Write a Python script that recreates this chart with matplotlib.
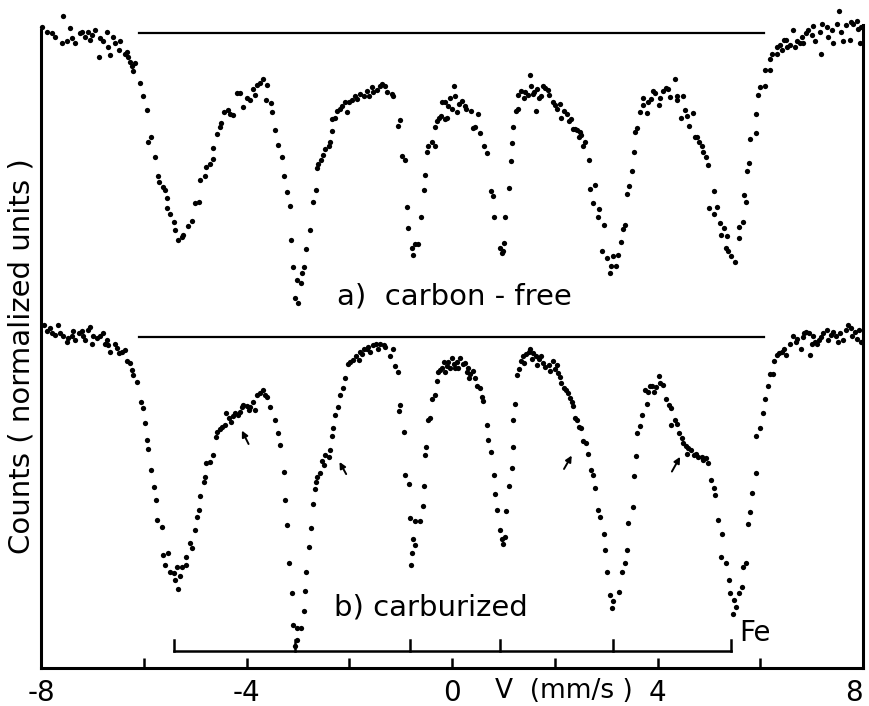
import matplotlib
matplotlib.use('Agg')
import matplotlib.pyplot as plt

plt.rcParams['font.family'] = 'DejaVu Sans'
plt.rcParams['axes.unicode_minus'] = False

# Mossbauer spectra: velocity (mm/s), counts (normalized units, spectra offset)
spec_a = [
    (-7.99, 100.2), (-7.89, 99.4), (-7.79, 99.2), (-7.73, 98.6), (-7.60, 97.6), (-7.565, 101.8),
    (-7.50, 97.9), (-7.44, 100.0), (-7.40, 98.4), (-7.34, 97.6), (-7.24, 99.2), (-7.21, 99.4),
    (-7.14, 98.6), (-7.08, 99.4), (-7.05, 98.1), (-7.01, 98.9), (-6.95, 99.7), (-6.88, 95.5),
    (-6.86, 98.4), (-6.79, 97.9), (-6.72, 99.4), (-6.69, 97.1), (-6.66, 95.8), (-6.59, 98.6),
    (-6.56, 97.6), (-6.49, 96.6), (-6.46, 97.9), (-6.37, 96.0), (-6.33, 96.3), (-6.30, 95.5),
    (-6.27, 94.7), (-6.23, 94.0), (-6.17, 94.5), (-6.20, 93.3), (-6.07, 91.4), (-6.01, 89.3),
    (-5.94, 87.2), (-5.91, 82.2), (-5.85, 83.0), (-5.78, 79.9), (-5.72, 76.8),
    (-5.70, 76.0), (-5.62, 75.2), (-5.59, 74.7), (-5.55, 73.4), (-5.55, 71.8), (-5.49, 71.0),
    (-5.42, 69.7), (-5.39, 68.4), (-5.33, 66.9), (-5.26, 67.4), (-5.23, 67.7), (-5.13, 69.0),
    (-5.07, 69.9), (-5.00, 72.6), (-4.92, 72.8), (-4.90, 76.3), (-4.81, 76.8), (-4.78, 78.3),
    (-4.71, 78.8), (-4.65, 79.6), (-4.65, 81.2), (-4.58, 83.5), (-4.52, 84.6), (-4.50, 85.2),
    (-4.44, 86.9), (-4.37, 87.2), (-4.32, 86.6), (-4.26, 86.4), (-4.18, 89.8), (-4.13, 89.9),
    (-4.07, 87.6), (-4.00, 89.0), (-3.93, 88.8), (-3.88, 90.4), (-3.83, 89.5), (-3.80, 91.1),
    (-3.74, 91.4), (-3.67, 92.1), (-3.63, 88.8), (-3.61, 91.1), (-3.53, 88.3), (-3.51, 86.9),
    (-3.45, 84.1), (-3.38, 81.7), (-3.31, 79.9), (-3.27, 76.8), (-3.22, 74.4), (-3.15, 72.2),
    (-3.14, 66.9), (-3.09, 62.7), (-3.02, 60.6), (-3.05, 57.8), (-2.99, 57.0),
    (-2.92, 61.7), (-2.89, 62.7), (-2.94, 60.1), (-2.84, 65.4), (-2.76, 68.4), (-2.71, 72.8),
    (-2.64, 74.7), (-2.63, 78.1), (-2.60, 78.7), (-2.55, 79.4), (-2.51, 80.2), (-2.47, 81.1),
    (-2.40, 81.6), (-2.38, 82.2), (-2.34, 83.9), (-2.34, 85.8), (-2.27, 86.0), (-2.24, 87.1),
    (-2.18, 87.4), (-2.14, 87.8), (-2.08, 88.4), (-2.05, 86.8), (-2.01, 88.4), (-1.95, 88.7),
    (-1.88, 89.4), (-1.84, 88.9), (-1.80, 89.7), (-1.72, 89.4), (-1.66, 90.1), (-1.61, 89.4),
    (-1.56, 90.8), (-1.53, 90.0), (-1.46, 90.3), (-1.41, 91.0), (-1.37, 91.2), (-1.30, 91.0),
    (-1.27, 90.0), (-1.17, 89.7), (-1.14, 89.4), (-1.01, 85.6), (-1.05, 84.7), (-0.98, 80.0),
    (-0.92, 79.4), (-0.88, 72.0), (-0.85, 68.8), (-0.78, 65.6), (-0.75, 64.6), (-0.72, 66.2),
    (-0.66, 66.3), (-0.60, 70.4), (-0.55, 74.7), (-0.52, 77.0), (-0.49, 80.7), (-0.46, 81.5),
    (-0.39, 82.2), (-0.34, 81.5), (-0.33, 84.5), (-0.29, 85.5), (-0.26, 86.0), (-0.21, 86.3),
    (-0.14, 85.8), (-0.10, 86.0), (-0.20, 88.4), (-0.13, 88.4), (-0.07, 87.8), (-0.03, 89.0),
    (0.00, 87.4), (0.03, 91.0), (0.06, 89.4), (0.10, 86.8), (0.14, 88.2), (0.19, 88.6),
    (0.25, 87.8), (0.27, 87.4), (0.36, 87.1), (0.40, 84.4), (0.45, 84.5), (0.51, 86.5),
    (0.55, 83.6), (0.62, 81.6), (0.68, 80.4), (0.76, 74.6), (0.79, 73.8), (0.81, 70.4),
    (0.94, 65.6), (0.97, 64.8), (0.99, 65.2), (1.01, 66.4), (1.03, 70.5), (1.10, 75.0),
    (1.14, 79.2), (1.16, 82.0), (1.19, 84.5), (1.25, 87.1), (1.29, 87.4), (1.29, 89.5),
    (1.34, 90.1), (1.40, 89.1), (1.42, 90.0), (1.47, 89.5), (1.52, 92.6), (1.53, 91.0),
    (1.57, 89.7), (1.60, 90.0), (1.64, 87.1), (1.66, 90.5), (1.70, 89.1), (1.73, 89.4),
    (1.77, 91.0), (1.81, 90.7), (1.86, 90.3), (1.89, 89.5), (1.97, 88.4), (2.01, 88.0),
    (2.05, 87.4), (2.10, 88.1), (2.12, 86.0), (2.18, 87.1), (2.23, 86.5), (2.27, 85.5),
    (2.31, 85.8), (2.36, 84.2), (2.39, 84.2), (2.44, 84.1), (2.49, 83.7), (2.48, 82.9),
    (2.52, 83.3), (2.59, 82.2), (2.55, 81.5), (2.67, 79.4), (2.78, 75.5), (2.68, 74.8),
    (2.75, 72.6), (2.87, 71.7), (2.85, 70.5), (2.96, 69.2), (2.91, 65.2), (3.01, 64.0),
    (3.13, 64.3), (3.24, 64.5), (3.09, 62.8), (3.19, 62.8), (3.07, 61.7), (3.28, 66.6),
    (3.32, 68.6), (3.37, 69.2), (3.40, 74.0), (3.44, 75.3), (3.50, 77.7), (3.55, 80.6),
    (3.56, 83.8), (3.61, 84.3), (3.66, 86.9), (3.72, 88.0), (3.71, 89.0), (3.79, 86.7),
    (3.82, 88.5), (3.87, 88.9), (3.92, 90.2), (3.95, 89.8), (4.03, 88.0), (4.05, 89.0),
    (4.11, 90.1), (4.16, 90.7), (4.21, 90.4), (4.25, 89.2), (4.34, 92.1), (4.37, 88.8),
    (4.38, 89.3), (4.49, 89.4), (4.45, 86.0), (4.53, 87.2), (4.58, 86.3), (4.70, 86.7),
    (4.62, 84.7), (4.73, 83.0), (4.76, 82.9), (4.81, 82.2), (4.86, 81.5), (4.89, 80.7),
    (4.94, 79.8), (4.99, 78.6), (5.09, 74.5), (5.01, 71.8), (5.10, 71.0), (5.16, 72.1),
    (5.22, 69.6), (5.29, 68.7), (5.23, 67.6), (5.35, 67.5), (5.33, 65.6), (5.38, 65.2),
    (5.44, 64.4), (5.51, 63.5), (5.59, 68.9), (5.66, 69.7), (5.58, 67.2), (5.715, 72.8),
    (5.68, 73.9), (5.75, 77.7), (5.79, 78.9), (5.80, 82.6), (5.92, 83.6), (5.92, 86.6),
    (5.96, 89.5), (5.99, 90.8), (6.09, 90.9), (6.09, 93.4), (6.18, 93.5), (6.18, 95.1),
    (6.22, 96.0), (6.32, 96.0), (6.32, 97.1), (6.38, 97.3), (6.46, 98.2), (6.51, 98.1),
    (6.42, 96.6), (6.53, 97.1), (6.58, 97.3), (6.63, 99.7), (6.68, 97.1), (6.71, 97.9),
    (6.77, 97.6), (6.81, 98.6), (6.83, 97.6), (6.90, 99.2), (6.935, 99.7), (7.00, 98.9),
    (7.03, 100.3), (7.06, 97.9), (7.16, 99.4), (7.19, 96.0), (7.21, 100.7), (7.29, 100.2),
    (7.32, 98.6), (7.39, 99.7), (7.42, 97.6), (7.49, 100.7), (7.54, 102.7), (7.58, 99.4),
    (7.62, 97.9), (7.67, 100.5), (7.75, 98.1), (7.76, 101.0), (7.81, 100.7), (7.88, 101.1),
    (7.91, 99.9), (7.94, 97.6), (7.97, 100.1),
]

spec_b = [
    (-7.95, 53.6), (-7.89, 52.6), (-7.82, 53.1), (-7.79, 52.3), (-7.73, 52.0), (-7.66, 53.6),
    (-7.63, 52.3), (-7.57, 51.8), (-7.50, 51.0), (-7.47, 51.5), (-7.40, 51.8), (-7.37, 52.6),
    (-7.34, 51.25), (-7.27, 52.3), (-7.21, 52.6), (-7.18, 51.8), (-7.14, 51.25), (-7.08, 52.8),
    (-7.05, 53.3), (-7.01, 50.7), (-6.98, 51.8), (-6.92, 51.5), (-6.85, 51.8), (-6.79, 52.3),
    (-6.75, 50.7), (-6.72, 51.25), (-6.69, 50.5), (-6.66, 49.4), (-6.56, 50.7), (-6.53, 50.0),
    (-6.49, 49.2), (-6.43, 49.4), (-6.36, 49.7), (-6.33, 47.9), (-6.27, 47.6), (-6.23, 46.6),
    (-6.20, 45.8), (-6.14, 44.7), (-6.06, 41.6), (-6.01, 40.6), (-5.98, 38.3), (-5.94, 35.6),
    (-5.91, 34.2), (-5.85, 30.9), (-5.81, 28.3), (-5.76, 26.25), (-5.74, 23.1), (-5.65, 22.1),
    (-5.62, 17.7), (-5.52, 17.9), (-5.59, 16.1), (-5.48, 15.05), (-5.42, 14.8), (-5.36, 15.8),
    (-5.39, 13.75), (-5.29, 14.3), (-5.33, 12.3), (-5.26, 15.8), (-5.18, 16.1), (-5.17, 17.4),
    (-5.07, 18.7), (-5.10, 19.5), (-5.00, 21.6), (-4.97, 23.6), (-4.92, 24.7), (-4.90, 26.8),
    (-4.83, 29.1), (-4.81, 29.9), (-4.79, 32.0), (-4.71, 32.2), (-4.65, 33.3), (-4.59, 36.1),
    (-4.58, 36.9), (-4.52, 37.4), (-4.48, 37.7), (-4.42, 38.0), (-4.40, 39.8), (-4.35, 39.0),
    (-4.31, 38.5), (-4.26, 39.3), (-4.22, 39.8), (-4.16, 39.5), (-4.13, 40.05), (-4.09, 40.8),
    (-4.06, 41.1), (-4.00, 40.9), (-3.96, 40.3), (-3.93, 40.8), (-3.87, 41.6), (-3.83, 40.3),
    (-3.80, 42.7), (-3.74, 43.0), (-3.67, 43.5), (-3.64, 42.7), (-3.61, 42.4), (-3.54, 40.8),
    (-3.44, 38.75), (-3.38, 36.7), (-3.35, 34.8), (-3.28, 30.7), (-3.25, 26.25), (-3.22, 22.3),
    (-3.17, 16.4), (-3.12, 11.7), (-3.09, 6.7), (-3.02, 6.2), (-3.01, 4.4), (-3.05, 3.4),
    (-2.94, 6.3), (-2.88, 8.9), (-2.86, 12.1), (-2.84, 15.0), (-2.79, 18.9), (-2.75, 21.8),
    (-2.70, 25.6), (-2.66, 27.9), (-2.64, 29.1), (-2.62, 29.8), (-2.57, 30.4), (-2.53, 32.4),
    (-2.50, 31.7), (-2.47, 33.3), (-2.40, 33.0), (-2.37, 34.0), (-2.34, 36.2), (-2.31, 37.5),
    (-2.27, 39.5), (-2.21, 40.8), (-2.18, 42.7), (-2.13, 43.7), (-2.08, 45.3), (-2.02, 47.5),
    (-1.98, 47.8), (-1.93, 48.2), (-1.87, 48.8), (-1.82, 48.2), (-1.79, 49.4), (-1.76, 49.1),
    (-1.72, 49.8), (-1.66, 49.8), (-1.63, 50.1), (-1.59, 49.4), (-1.53, 50.4), (-1.48, 50.6),
    (-1.45, 49.8), (-1.40, 50.7), (-1.33, 50.4), (-1.30, 50.1), (-1.20, 48.8), (-1.14, 49.8),
    (-1.11, 47.2), (-1.05, 46.2), (-1.01, 41.1), (-1.03, 40.1), (-0.94, 36.9), (-0.92, 30.1),
    (-0.83, 28.8), (-0.81, 23.4), (-0.73, 23.0), (-0.75, 20.2), (-0.72, 19.2), (-0.77, 17.9),
    (-0.80, 16.1), (-0.62, 23.0), (-0.57, 25.3), (-0.55, 28.5), (-0.52, 33.3), (-0.51, 34.6),
    (-0.47, 38.8), (-0.42, 39.1), (-0.39, 42.0), (-0.33, 42.7), (-0.29, 44.9), (-0.27, 46.2),
    (-0.23, 46.6), (-0.20, 46.9), (-0.16, 47.8), (-0.13, 46.2), (-0.10, 47.2), (-0.07, 47.8),
    (-0.03, 46.9), (0.00, 48.5), (0.03, 47.5), (0.06, 46.9), (0.10, 47.8), (0.11, 46.9),
    (0.16, 48.5), (0.21, 47.5), (0.26, 47.6), (0.29, 46.2), (0.31, 46.9), (0.34, 45.3),
    (0.35, 45.9), (0.40, 46.4), (0.45, 45.3), (0.48, 44.0), (0.55, 43.7), (0.59, 42.4),
    (0.61, 41.7), (0.68, 37.9), (0.71, 35.6), (0.76, 33.7), (0.81, 30.1), (0.84, 27.2),
    (0.87, 24.7), (0.94, 21.6), (0.97, 20.1), (1.00, 19.4), (1.03, 20.4), (1.06, 24.6),
    (1.10, 28.4), (1.16, 31.3), (1.18, 34.6), (1.19, 38.7), (1.23, 41.3), (1.26, 45.8),
    (1.31, 46.7), (1.34, 48.0), (1.38, 48.7), (1.40, 47.7), (1.44, 49.0), (1.49, 49.3),
    (1.52, 49.9), (1.55, 48.3), (1.58, 49.2), (1.63, 48.7), (1.66, 47.4), (1.70, 48.3),
    (1.74, 48.7), (1.78, 47.7), (1.81, 47.1), (1.88, 47.4), (1.91, 46.4), (1.97, 48.0),
    (2.00, 46.7), (2.04, 47.4), (2.07, 46.1), (2.10, 45.4), (2.13, 44.5), (2.18, 43.8),
    (2.22, 43.5), (2.26, 42.9), (2.30, 42.2), (2.33, 41.6), (2.36, 40.9), (2.39, 39.0),
    (2.43, 38.7), (2.48, 37.7),
    (2.52, 37.45), (2.55, 35.4), (2.61, 35.1), (2.65, 33.5), (2.70, 30.9), (2.75, 30.2),
    (2.78, 28.1), (2.85, 24.7), (2.88, 23.6), (2.96, 21.0), (2.98, 18.4), (3.02, 15.05),
    (3.07, 11.4), (3.14, 10.4), (3.11, 9.3), (3.26, 11.9), (3.30, 15.05), (3.37, 16.35),
    (3.40, 18.4), (3.43, 22.7), (3.52, 25.1), (3.54, 30.0), (3.59, 33.1), (3.61, 36.7),
    (3.65, 37.8), (3.69, 39.5), (3.79, 41.25), (3.76, 43.4), (3.82, 43.2), (3.85, 44.0),
    (3.90, 44.1), (3.93, 43.2), (3.98, 43.9), (4.03, 45.6), (4.05, 44.6), (4.11, 44.2),
    (4.16, 42.1), (4.23, 41.1), (4.27, 40.6), (4.26, 38.0), (4.34, 38.75), (4.37, 38.2),
    (4.42, 36.7), (4.47, 36.0), (4.50, 35.2), (4.55, 34.7), (4.60, 34.3), (4.58, 33.4),
    (4.66, 34.0), (4.71, 33.3), (4.75, 33.4), (4.79, 33.0), (4.86, 33.0), (4.89, 32.5),
    (4.94, 32.8), (4.99, 32.0), (5.05, 29.4), (5.09, 28.1), (5.12, 27.0), (5.18, 23.1),
    (5.25, 21.0), (5.23, 17.4), (5.33, 16.35), (5.40, 13.75), (5.41, 11.7), (5.49, 10.6),
    (5.53, 9.6), (5.475, 8.5), (5.59, 11.7), (5.64, 12.7), (5.67, 15.8), (5.72, 16.35),
    (5.77, 22.5), (5.80, 24.4), (5.83, 27.4), (5.92, 30.4), (5.92, 36.25), (5.99, 37.45),
    (6.05, 39.8), (6.10, 42.0), (6.16, 44.1), (6.19, 46.0), (6.25, 46.0), (6.27, 48.0),
    (6.32, 48.9), (6.37, 49.2), (6.42, 49.4), (6.46, 49.8), (6.50, 48.9), (6.57, 50.6),
    (6.63, 51.9), (6.70, 51.0), (6.72, 51.4), (6.79, 49.8), (6.83, 51.7), (6.85, 52.3),
    (6.90, 52.55), (6.95, 52.3), (6.97, 48.9), (7.00, 50.7), (7.03, 51.8), (7.06, 51.0),
    (7.11, 50.7), (7.15, 51.25), (7.19, 51.7), (7.23, 52.3), (7.29, 52.8), (7.32, 51.25),
    (7.37, 52.0), (7.42, 52.55), (7.47, 51.9), (7.52, 51.0), (7.55, 52.3), (7.62, 51.25),
    (7.67, 52.8), (7.71, 53.6), (7.76, 53.2), (7.78, 51.8), (7.84, 52.55), (7.88, 51.4),
    (7.93, 52.8), (7.97, 51.0),
]

# off-resonance reference levels and their extent
base_a = 99.2
base_b = 51.7
base_v = [-6.09, 6.07]

# alpha-Fe line positions (mm/s)
fe_lines = [-5.42, -3.06, -0.82, 0.93, 3.13, 5.44]

# arrows marking the extra component (tail v, tail c, head v, head c)
arrows = [(-3.96, 35.0, -4.09, 37.1), (-2.06, 30.3, -2.19, 32.2),
          (2.18, 31.1, 2.33, 33.2), (4.28, 30.7, 4.44, 33.0)]

fig = plt.figure(figsize=(8.69, 7.06), dpi=100)
ax = fig.add_axes([0.0472, 0.0538, 0.9459, 0.9455])

va, ca = zip(*spec_a)
vb, cb = zip(*spec_b)
ax.plot(va, ca, 'o', color='black', ms=3.8, mew=0, clip_on=False)
ax.plot(vb, cb, 'o', color='black', ms=3.8, mew=0, clip_on=False)

ax.plot(base_v, [base_a, base_a], color='black', lw=1.6)
ax.plot(base_v, [base_b, base_b], color='black', lw=1.6)

# Fe stick diagram
fe_y = 2.7
ax.plot([fe_lines[0], fe_lines[-1]], [fe_y, fe_y], color='black', lw=1.8)
for p in fe_lines:
    ax.plot([p, p], [fe_y, fe_y + 1.6], color='black', lw=1.8)
ax.text(5.9, 5.5, 'Fe', fontsize=20, ha='center', va='center')

for tv, tc, hv, hc in arrows:
    ax.annotate('', xy=(hv, hc), xytext=(tv, tc),
                arrowprops=dict(arrowstyle='-|>', color='black', lw=1.4,
                                mutation_scale=9, shrinkA=0, shrinkB=0))

ax.text(0.04, 58.1, 'a)  carbon - free', fontsize=21, ha='center', va='center')
ax.text(-0.41, 9.4, 'b) carburized', fontsize=21, ha='center', va='center')

ax.set_xlim(-8, 8)
ax.set_ylim(0, 104.3)
ax.set_xticks([-8, -4, 0, 4, 8])
ax.set_xticks([-6, -2, 2, 6], minor=True)
ax.set_yticks([])
ax.tick_params(axis='x', which='both', direction='in', length=7, width=1.8,
               labelsize=20, pad=8)
ax.get_xticklabels()[-1].set_horizontalalignment('right')

ax.spines['top'].set_visible(False)
for s in ['left', 'right', 'bottom']:
    ax.spines[s].set_linewidth(2.2)
ax.spines['left'].set_bounds(0, 99.7)
ax.spines['right'].set_bounds(0, 100.5)

ax.set_xlabel('V  (mm/s )', fontsize=19)
ax.xaxis.set_label_coords(0.636, -0.035)
ax.xaxis.label.set_va('center')

fig.text(22 / 869, 1 - 356 / 706, 'Counts ( normalized units )', fontsize=21,
         rotation=90, ha='center', va='center')

fig.savefig('out.png', dpi=100)
